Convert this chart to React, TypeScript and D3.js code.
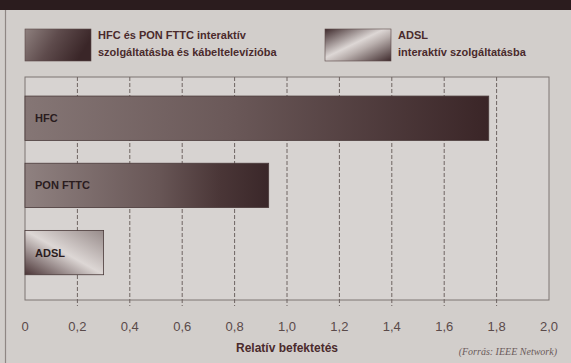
import React from "react";
import * as d3 from "d3";

const categories = ["HFC", "PON FTTC", "ADSL"];
const values = [1.77, 0.93, 0.3];
const tickValues = [0, 0.2, 0.4, 0.6, 0.8, 1.0, 1.2, 1.4, 1.6, 1.8, 2.0];
const legendLine1 = ["HFC és PON FTTC interaktív", "szolgáltatásba és kábeltelevízióba"];
const legendLine2 = ["ADSL", "interaktív szolgáltatásba"];
const axisTitle = "Relatív befektetés";
const sourceText = "(Forrás: IEEE Network)";

const W = 571;
const H = 363;
const frame = { left: 25, right: 549, top: 77, bottom: 300 };
const fillIds = ["gHFC", "gPON", "gADSL"];
const sans = "'Liberation Sans', Arial, sans-serif";
const txt = "#4a2a2c";

export default function App() {
  const x = d3.scaleLinear().domain([0, 2]).range([frame.left, frame.right]);
  const y = d3
    .scaleBand<string>()
    .domain(categories)
    .range([frame.top, frame.bottom])
    .paddingInner(0.34)
    .paddingOuter(0.33)
    .align(0.43);
  const fmt = (v: number) => (v === 0 ? "0" : d3.format(".1f")(v).replace(".", ","));

  return (
    <svg
      width={W}
      height={H}
      style={{ position: "absolute", left: 0, top: 0, display: "block" }}
    >
      <defs>
        <linearGradient id="gHFC" x1="0" y1="0" x2="1" y2="0">
          <stop offset="0" stopColor="#857675" />
          <stop offset="0.45" stopColor="#6a5858" />
          <stop offset="1" stopColor="#3a2527" />
        </linearGradient>
        <linearGradient id="gPON" x1="0" y1="0" x2="1" y2="0">
          <stop offset="0" stopColor="#8f8180" />
          <stop offset="0.55" stopColor="#685656" />
          <stop offset="0.8" stopColor="#4a3637" />
          <stop offset="1" stopColor="#3a2729" />
        </linearGradient>
        <linearGradient id="gADSL" x1="0" y1="1" x2="1" y2="0">
          <stop offset="0" stopColor="#4a3436" />
          <stop offset="0.5" stopColor="#ddd7d5" />
          <stop offset="1" stopColor="#978b8a" />
        </linearGradient>
        <linearGradient id="gLeg1" x1="0" y1="0" x2="1" y2="0.3">
          <stop offset="0" stopColor="#8e807e" />
          <stop offset="0.5" stopColor="#5e4b4c" />
          <stop offset="1" stopColor="#3a2628" />
        </linearGradient>
        <linearGradient id="gLeg2" x1="0" y1="0" x2="1" y2="1">
          <stop offset="0" stopColor="#3e2a2c" />
          <stop offset="0.45" stopColor="#ddd7d5" />
          <stop offset="0.6" stopColor="#b8aeac" />
          <stop offset="1" stopColor="#3e2a2c" />
        </linearGradient>
      </defs>

      {/* page background */}
      <rect x={0} y={0} width={W} height={H} fill="#d2cecb" />
      <rect x={0} y={0} width={W} height={10} fill="#2b1c1e" />
      <line x1={5.5} x2={5.5} y1={10} y2={H} stroke="#8f8784" strokeWidth={1.2} />

      {/* legend */}
      <rect x={25} y={29} width={66} height={32} fill="url(#gLeg1)" stroke="#5a4848" strokeWidth={0.6} />
      {legendLine1.map((t, i) => (
        <text key={t} x={98} y={39 + i * 17} fontFamily={sans} fontWeight="bold" fontSize={11} fill={txt}>
          {t}
        </text>
      ))}
      <rect x={325} y={29} width={66} height={32} fill="url(#gLeg2)" stroke="#5a4848" strokeWidth={0.6} />
      {legendLine2.map((t, i) => (
        <text key={t} x={398} y={39 + i * 17} fontFamily={sans} fontWeight="bold" fontSize={11} fill={txt}>
          {t}
        </text>
      ))}

      {/* plot frame */}
      <rect
        x={frame.left}
        y={frame.top}
        width={frame.right - frame.left}
        height={frame.bottom - frame.top}
        fill="#d7d3d1"
        stroke="#7c7472"
        strokeWidth={1}
      />
      {tickValues.slice(1, -1).map((v) => (
        <line
          key={v}
          x1={x(v)}
          x2={x(v)}
          y1={frame.top}
          y2={frame.bottom + 6}
          stroke="#6e6462"
          strokeWidth={1}
          strokeDasharray="4,2"
        />
      ))}

      {/* bars */}
      {categories.map((c, i) => (
        <g key={c}>
          <rect
            x={x(0)}
            y={y(c)!}
            width={x(values[i]) - x(0)}
            height={y.bandwidth()}
            fill={`url(#${fillIds[i]})`}
            stroke="#4a3a3a"
            strokeWidth={0.8}
          />
          <text
            x={x(0) + 10}
            y={y(c)! + y.bandwidth() / 2 + 4}
            fontFamily={sans}
            fontWeight="bold"
            fontSize={11}
            fill="#2a1c1e"
          >
            {c}
          </text>
        </g>
      ))}

      {/* tick labels */}
      {tickValues.map((v) => (
        <text
          key={v}
          x={x(v)}
          y={331}
          textAnchor="middle"
          fontFamily={sans}
          fontSize={13}
          fill="#5a4a4a"
        >
          {fmt(v)}
        </text>
      ))}

      <text
        x={(x(0) + x(2)) / 2}
        y={352}
        textAnchor="middle"
        fontFamily={sans}
        fontWeight="bold"
        fontSize={12}
        fill={txt}
      >
        {axisTitle}
      </text>
      <text
        x={557}
        y={355}
        textAnchor="end"
        fontFamily="'Liberation Serif', 'DejaVu Serif', serif"
        fontStyle="italic"
        fontSize={10}
        fill="#6a5a5a"
      >
        {sourceText}
      </text>
    </svg>
  );
}
